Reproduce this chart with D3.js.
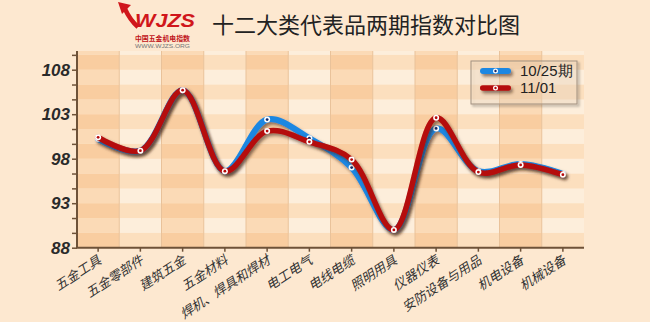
<!DOCTYPE html>
<html>
<head>
<meta http-equiv="content-type" content="text/html; charset=UTF8">
<script src="https://cdn.jsdelivr.net/npm/d3@7/dist/d3.min.js"></script>
<style>
body { margin: 0; background: #fde8d0; }
svg { display: block; }
</style>
</head>
<body>
<svg class="chart" width="650" height="322"></svg>
<script>
var categories = ["五金工具", "五金零部件", "建筑五金", "五金材料", "焊机、焊具和焊材", "电工电气",
	"电线电缆", "照明用具", "仪器仪表", "安防设备与用品", "机电设备", "机械设备"];
var seriesNames = ["10/25期", "11/01"];
var values1025 = [100.2, 98.9, 105.7, 96.6, 102.4, 100.3, 97.0, 90.0, 101.4, 96.6, 97.4, 96.3];
var values1101 = [100.4, 98.9, 105.7, 96.6, 101.1, 99.9, 97.9, 90.0, 102.6, 96.5, 97.3, 96.2];
var yTicks = [88, 93, 98, 103, 108];

var plotLeft = 77, plotRight = 584, plotTop = 51, plotBottom = 247.7;

var svg = d3.select(".chart");

var defs = svg.append("defs");
var f = defs.append("filter").attr("id", "shadow")
	.attr("filterUnits", "userSpaceOnUse")
	.attr("x", 0).attr("y", 0).attr("width", 650).attr("height", 322);
f.append("feDropShadow").attr("dx", 2).attr("dy", 2.5)
	.attr("stdDeviation", 1.5).attr("flood-color", "#3a2010").attr("flood-opacity", 0.55);
var fb = defs.append("filter").attr("id", "boxshadow")
	.attr("x", "-10%").attr("y", "-10%").attr("width", "130%").attr("height", "140%");
fb.append("feDropShadow").attr("dx", 2).attr("dy", 2)
	.attr("stdDeviation", 1.2).attr("flood-color", "#000").attr("flood-opacity", 0.35);

var x = d3.scaleBand().domain(categories).range([plotLeft, plotRight]);
var y = d3.scaleLinear().domain([88, 110.1]).range([plotBottom, plotTop]);

// checkered background
var step = 5 / 3;
var rows = d3.range(88, 110.1, step);
var cells = [];
categories.forEach(function(c, ci) {
	rows.forEach(function(r, ri) {
		cells.push({c: c, ci: ci, r: r, ri: ri});
	});
});
var cellColor = [["#f9cda0", "#fbdab6"], ["#fcdfbe", "#fdeedb"]];
svg.append("g").selectAll("rect")
	.data(cells)
	.enter()
	.append("rect")
	.attr("x", function(d) { return x(d.c); })
	.attr("width", x.bandwidth())
	.attr("y", function(d) { return y(Math.min(d.r + step, 110.1)); })
	.attr("height", function(d) { return y(d.r) - y(Math.min(d.r + step, 110.1)); })
	.attr("fill", function(d) { return cellColor[d.ci % 2][d.ri % 2]; });

// vertical grid lines
svg.append("g").selectAll("line")
	.data(categories.slice(1))
	.enter()
	.append("line")
	.attr("x1", function(d) { return x(d); })
	.attr("x2", function(d) { return x(d); })
	.attr("y1", plotTop).attr("y2", plotBottom)
	.attr("stroke", "#e9c29a").attr("stroke-width", 1);

// axes
var minorTicks = d3.range(88, 110, step);
var yAxis = svg.append("g")
	.attr("transform", "translate(" + plotLeft + ",0)")
	.call(d3.axisLeft(y).tickValues(minorTicks).tickSize(5).tickFormat(""));
yAxis.select(".domain").attr("stroke", "#6e5238").attr("stroke-width", 2).attr("d", "M0," + plotTop + "V" + plotBottom);
yAxis.selectAll(".tick line").attr("stroke", "#6e5238").attr("stroke-width", 1.5);

svg.append("g").selectAll("text")
	.data(yTicks)
	.enter()
	.append("text")
	.attr("x", 70)
	.attr("y", function(d) { return y(d) + 6; })
	.attr("text-anchor", "end")
	.style("font-family", "Liberation Sans, Arial, sans-serif")
	.style("font-size", "17px")
	.style("font-weight", "bold")
	.style("font-style", "italic")
	.attr("fill", "#2a2a2a")
	.text(function(d) { return d; });

var xAxis = svg.append("g")
	.attr("transform", "translate(0," + plotBottom + ")")
	.call(d3.axisBottom(x).tickSize(4).tickFormat(""));
xAxis.select(".domain").attr("stroke", "#6e5238").attr("stroke-width", 2).attr("d", "M" + (plotLeft - 1) + ",0H" + plotRight);
xAxis.selectAll(".tick line").attr("stroke", "#6e5238").attr("stroke-width", 1.5);

svg.append("g").selectAll("text")
	.data(categories)
	.enter()
	.append("text")
	.attr("transform", function(d) {
		return "translate(" + (x(d) + x.bandwidth() / 2 + 4) + "," + (plotBottom + 15) + ") rotate(-33)";
	})
	.attr("text-anchor", "end")
	.style("font-family", "Noto Sans CJK SC, sans-serif")
	.style("font-size", "13px")
	.style("font-style", "italic")
	.attr("fill", "#333")
	.text(function(d) { return d; });

// lines
var line = d3.line()
	.x(function(d, i) { return x(categories[i]) + x.bandwidth() / 2; })
	.y(function(d) { return y(d); })
	.curve(d3.curveCatmullRom.alpha(0.5));

var series = [
	{name: seriesNames[0], values: values1025, color: "#1b87e2", width: 6, dot: "#10286a"},
	{name: seriesNames[1], values: values1101, color: "#b50a0a", width: 5.5, dot: "#b50a0a"}
];

series.forEach(function(s) {
	var g = svg.append("g");
	g.append("path")
		.attr("d", line(s.values))
		.attr("fill", "none")
		.attr("stroke", s.color)
		.attr("stroke-width", s.width)
		.attr("stroke-linecap", "round")
		.attr("filter", "url(#shadow)");
	g.selectAll("circle.m")
		.data(s.values)
		.enter()
		.append("circle")
		.attr("cx", function(d, i) { return x(categories[i]) + x.bandwidth() / 2; })
		.attr("cy", function(d) { return y(d); })
		.attr("r", 3)
		.attr("fill", "#fff");
	g.selectAll("circle.c")
		.data(s.values)
		.enter()
		.append("circle")
		.attr("cx", function(d, i) { return x(categories[i]) + x.bandwidth() / 2; })
		.attr("cy", function(d) { return y(d); })
		.attr("r", 1.4)
		.attr("fill", s.dot);
});

// legend
var legend = svg.append("g").attr("transform", "translate(471,61)");
legend.append("rect")
	.attr("width", 106).attr("height", 43)
	.attr("fill", "#fde6cc").attr("fill-opacity", 0.35)
	.attr("stroke", "#a09080").attr("stroke-width", 1)
	.attr("filter", "url(#boxshadow)");
series.forEach(function(s, i) {
	var ly = 10 + i * 17;
	legend.append("rect")
		.attr("x", 9).attr("y", ly - s.width / 2)
		.attr("width", 31).attr("height", s.width)
		.attr("rx", s.width / 2)
		.attr("fill", s.color)
		.attr("filter", "url(#shadow)");
	legend.append("circle").attr("cx", 24.5).attr("cy", ly).attr("r", 2.5).attr("fill", "#fff");
	legend.append("circle").attr("cx", 24.5).attr("cy", ly).attr("r", 1.2).attr("fill", s.dot);
	legend.append("text")
		.attr("x", 49).attr("y", ly + 5)
		.style("font-family", "Liberation Sans, Arial, sans-serif")
		.style("font-size", "15px")
		.attr("fill", "#222")
		.text(s.name);
});

// title
svg.append("text")
	.attr("x", 212).attr("y", 33)
	.style("font-family", "Noto Sans CJK SC, sans-serif")
	.style("font-size", "22px")
	.attr("fill", "#222")
	.text("十二大类代表品两期指数对比图");

// logo
var logo = svg.append("g");
logo.append("path")
	.attr("d", "M125,9 Q130,20 138,27")
	.attr("stroke", "#d0161b").attr("stroke-width", 4.5).attr("fill", "none");
logo.append("path")
	.attr("d", "M118,2 L131,5 L122,14 Z")
	.attr("fill", "#d0161b");
logo.append("text")
	.attr("x", 135).attr("y", 27)
	.attr("textLength", 60).attr("lengthAdjust", "spacingAndGlyphs")
	.style("font-family", "Liberation Sans, Arial, sans-serif")
	.style("font-size", "18px")
	.style("font-weight", "bold")
	.style("font-style", "italic")
	.attr("fill", "#d0161b")
	.text("WJZS");
logo.append("text")
	.attr("x", 135).attr("y", 41)
	.attr("textLength", 55).attr("lengthAdjust", "spacingAndGlyphs")
	.style("font-family", "Noto Sans CJK SC, sans-serif")
	.style("font-size", "7px")
	.style("font-weight", "bold")
	.attr("fill", "#c0141a")
	.text("中国五金机电指数");
logo.append("text")
	.attr("x", 135).attr("y", 48)
	.attr("textLength", 55).attr("lengthAdjust", "spacingAndGlyphs")
	.style("font-family", "Liberation Sans, Arial, sans-serif")
	.style("font-size", "5.5px")
	.attr("fill", "#777")
	.text("WWW.WJZS.ORG");
</script>
</body>
</html>
